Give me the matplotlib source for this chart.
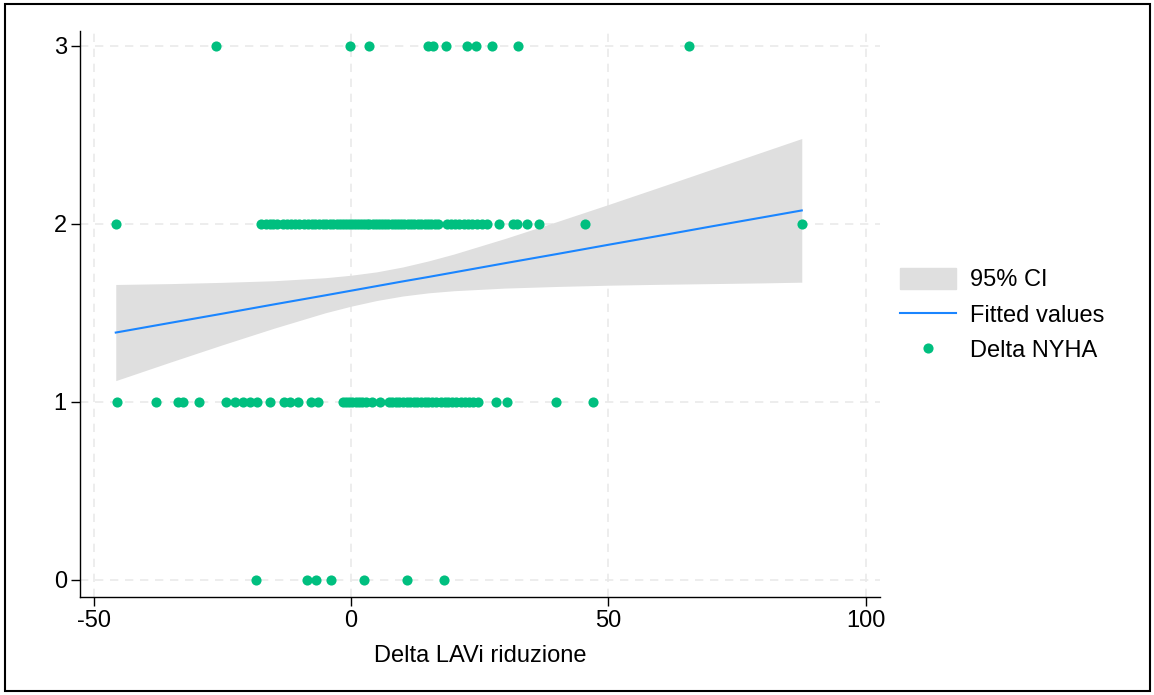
import matplotlib
matplotlib.use("Agg")
import matplotlib.pyplot as plt
import matplotlib.patches as mpatches
from matplotlib.lines import Line2D

plt.rcParams['font.family'] = ['Liberation Sans', 'DejaVu Sans']
plt.rcParams['axes.unicode_minus'] = False

# Delta LAVi riduzione values for each Delta NYHA level
x_nyha0 = [-18.5, -8.5, -6.7, -3.8, 2.5, 10.8, 18.1]
x_nyha1 = [-45.4, -37.9, -33.7, -32.7, -29.5, -24.3, -22.5, -20.9, -19.6, -18.2,
           -15.7, -13.0, -11.9, -10.2, -7.7, -6.4, -1.5, -0.9, -0.3, 0.3, 0.9,
           1.5, 2.2, 3.0, 4.1, 5.6, 7.3, 8.0, 8.7, 9.4, 10.1, 10.8, 11.5, 12.2,
           12.9, 13.6, 14.3, 15.0, 15.8, 16.6, 17.4, 18.3, 18.9, 19.7, 20.5,
           21.3, 22.1, 22.9, 23.7, 24.7, 28.1, 30.3, 39.8, 47.1]
x_nyha2 = [-45.7, -17.4, -16.6, -15.8, -15.1, -14.3, -13.2, -12.5, -11.6, -10.9,
           -10.1, -9.2, -8.4, -7.6, -6.9, -6.2, -5.5, -4.8, -4.1, -3.5, -2.8,
           -2.2, -1.6, -1.0, -0.4, 0.2, 0.7, 1.3, 1.9, 2.5, 3.1, 3.6, 4.2, 4.8,
           5.4, 6.0, 6.6, 7.2, 7.9, 8.5, 9.1, 9.8, 10.4, 11.0, 11.7, 12.3, 13.0,
           13.6, 14.3, 14.9, 15.6, 16.3, 17.0, 18.6, 19.4, 20.2, 21.0, 21.9,
           22.7, 23.6, 24.5, 25.4, 26.5, 28.8, 31.4, 32.3, 34.3, 36.5, 45.4, 87.6]
x_nyha3 = [-26.2, -0.2, 3.6, 15.0, 16.0, 18.5, 22.6, 24.3, 27.5, 32.5, 65.7]

# fitted line and 95% CI
fit_x = [-45.7, -35, -25, -15, -5, 0, 5, 10, 15, 20, 30, 40, 50, 60, 70, 80, 87.6]
fit_y = [1.390, 1.445, 1.496, 1.548, 1.599, 1.625, 1.651, 1.677, 1.702, 1.728,
         1.780, 1.831, 1.883, 1.934, 1.986, 2.037, 2.076]
ci_hi = [1.660, 1.665, 1.672, 1.681, 1.698, 1.712, 1.731, 1.758, 1.792, 1.831,
         1.919, 2.013, 2.109, 2.207, 2.306, 2.405, 2.480]
ci_lo = [1.120, 1.225, 1.321, 1.414, 1.501, 1.538, 1.570, 1.595, 1.613, 1.625,
         1.640, 1.649, 1.656, 1.661, 1.665, 1.669, 1.673]

x_ticks = [-50, 0, 50, 100]
y_ticks = [0, 1, 2, 3]

green = '#00bf7f'
blue = '#1a85ff'
band = '#dfdfdf'
fs = 17

fig = plt.figure(figsize=(11.54, 6.95), dpi=100)
ax = fig.add_axes([80 / 1154, 1 - 597 / 695, 800 / 1154, 566 / 695])

ax.fill_between(fit_x, ci_lo, ci_hi, color=band, linewidth=0, zorder=1)
ax.plot(fit_x, fit_y, color=blue, linewidth=1.5, zorder=2)

for lvl, xs in zip(y_ticks, [x_nyha0, x_nyha1, x_nyha2, x_nyha3]):
    ax.plot(xs, [lvl] * len(xs), 'o', color=green, markersize=7.3,
            markeredgewidth=0, zorder=3)

ax.set_xlim(-52.65, 102.8)
ax.set_ylim(-0.0955, 3.084)
ax.set_xticks(x_ticks)
ax.set_yticks(y_ticks)
ax.grid(True, color='#eaeaea', linestyle=(0, (5, 4)), linewidth=1.2, zorder=0)
ax.set_axisbelow(True)

for s in ['top', 'right']:
    ax.spines[s].set_visible(False)
for s in ['left', 'bottom']:
    ax.spines[s].set_linewidth(1.0)
ax.tick_params(direction='out', length=6.5, width=1.0, labelsize=fs, pad=3)
ax.set_xlabel("Delta LAVi riduzione", fontsize=fs, labelpad=9)

handles = [mpatches.Patch(color=band, label='95% CI'),
           Line2D([], [], color=blue, linewidth=1.5, label='Fitted values'),
           Line2D([], [], marker='o', linestyle='none', color=green,
                  markersize=7.3, markeredgewidth=0, label='Delta NYHA')]
fig.legend(handles=handles, loc='center left',
           bbox_to_anchor=(879 / 1154, 1 - 315 / 695), frameon=False,
           fontsize=fs, handlelength=2.35, handleheight=1.0, labelspacing=0.5,
           handletextpad=0.6)

# outer frame
fig.patches.append(mpatches.Rectangle((5 / 1154, 4 / 695), 1145 / 1154, 687 / 695,
                                      transform=fig.transFigure, fill=False,
                                      edgecolor='black', linewidth=1.5))

fig.savefig('out.png', dpi=100)
